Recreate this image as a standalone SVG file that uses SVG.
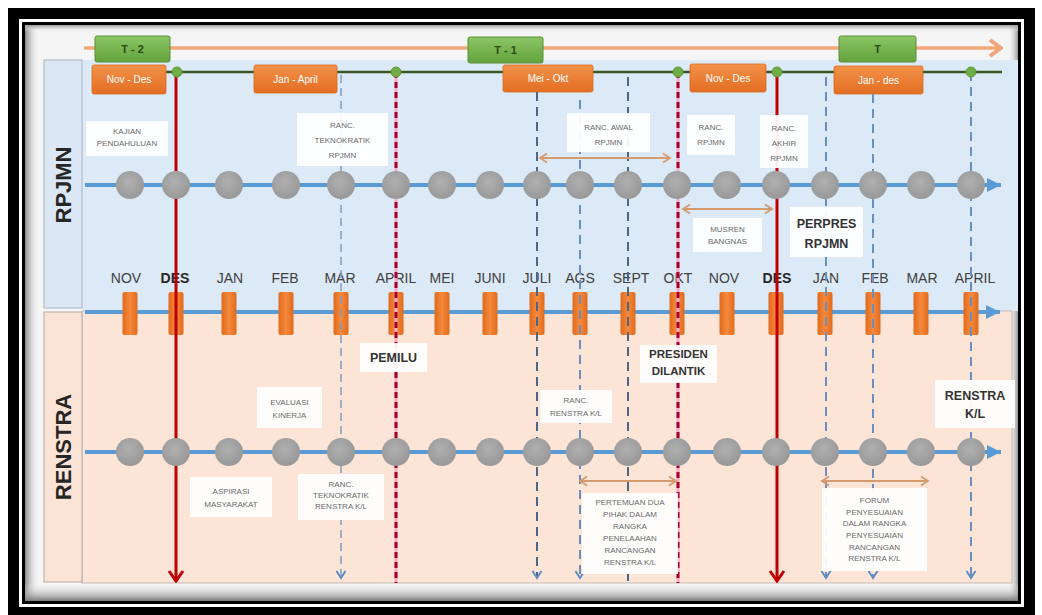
<svg xmlns="http://www.w3.org/2000/svg" width="1042" height="615" viewBox="0 0 1042 615">
<defs>
<style>
.lbl{font-family:"Liberation Sans",Arial,sans-serif;font-size:8px;fill:#6a6a6a;text-anchor:middle}
.lblb{font-family:"Liberation Sans",Arial,sans-serif;font-size:12.5px;font-weight:bold;fill:#333;text-anchor:middle}
.box{fill:#ffffff;fill-opacity:0.93}
.mon{font-family:"Liberation Sans",Arial,sans-serif;font-size:14px;fill:#404040;text-anchor:middle}
.monb{font-weight:bold;fill:#262626}
.side{font-family:"Liberation Sans",Arial,sans-serif;font-size:22px;font-weight:bold;fill:#262626;text-anchor:middle}
.per{font-family:"Liberation Sans",Arial,sans-serif;font-size:10px;fill:#fff;text-anchor:middle}
.yr{font-family:"Liberation Sans",Arial,sans-serif;font-size:11px;font-weight:bold;fill:#2d4a1c;text-anchor:middle}
.gbox{fill:url(#gGreen);stroke:#5a8f38;stroke-width:1}
.obox{fill:url(#gOrange);stroke:#d96a20;stroke-width:0.8}
.tl{stroke:#5b9bd5;stroke-width:4;fill:none}
.dot{fill:url(#gGray)}
.mrk{fill:url(#gMark)}
.gdot{fill:#70ad47;stroke:#5a9a36;stroke-width:1}
.red{stroke:#c00000;stroke-width:3;fill:none}
.pink{stroke:#f7a8c4;stroke-width:3;fill:none}
.reddash{stroke:#a5002a;stroke-width:3;stroke-dasharray:6 4;fill:none}
.bdash{stroke:#6a8fbf;stroke-width:2;stroke-dasharray:9 6;fill:none}
.bdashl{stroke:#7f9cc0;stroke-width:1.5;stroke-dasharray:8 5;fill:none}
.bdashd{stroke:#4e6584;stroke-width:2;stroke-dasharray:9 6;fill:none}
.span{stroke:#d59a6d;stroke-width:2;fill:none}
</style>
<linearGradient id="gGreen" x1="0" y1="0" x2="0" y2="1"><stop offset="0" stop-color="#8cc665"/><stop offset="1" stop-color="#62a23c"/></linearGradient>
<linearGradient id="gOrange" x1="0" y1="0" x2="0" y2="1"><stop offset="0" stop-color="#f3914a"/><stop offset="1" stop-color="#e26e22"/></linearGradient>
<linearGradient id="gMark" x1="0" y1="0" x2="1" y2="0"><stop offset="0" stop-color="#e06a1c"/><stop offset="0.5" stop-color="#f58a3e"/><stop offset="1" stop-color="#e06a1c"/></linearGradient>
<radialGradient id="gGray" cx="0.45" cy="0.4" r="0.6"><stop offset="0" stop-color="#b0b0b0"/><stop offset="1" stop-color="#989898"/></radialGradient>
<linearGradient id="shL" x1="0" y1="0" x2="1" y2="0"><stop offset="0" stop-color="#8a8a8a"/><stop offset="1" stop-color="#f3f3f3" stop-opacity="0"/></linearGradient>
<linearGradient id="shR" x1="1" y1="0" x2="0" y2="0"><stop offset="0" stop-color="#9a9a9a"/><stop offset="1" stop-color="#f3f3f3" stop-opacity="0"/></linearGradient>
<linearGradient id="shB" x1="0" y1="1" x2="0" y2="0"><stop offset="0" stop-color="#7a7a7a"/><stop offset="1" stop-color="#f3f3f3" stop-opacity="0"/></linearGradient>
<linearGradient id="shT" x1="0" y1="0" x2="0" y2="1"><stop offset="0" stop-color="#9a9a9a"/><stop offset="1" stop-color="#f3f3f3" stop-opacity="0"/></linearGradient>
<marker id="arRed" viewBox="-13 -9 15 18" refX="0" refY="0" markerWidth="15" markerHeight="18" markerUnits="userSpaceOnUse" orient="auto"><path d="M-10,-7 L0,0 L-10,7" fill="none" stroke="#c00000" stroke-width="3"/></marker>
<marker id="arBlue" viewBox="-9 -6 11 12" refX="0" refY="0" markerWidth="11" markerHeight="12" markerUnits="userSpaceOnUse" orient="auto"><path d="M-7,-4.5 L0,0 L-7,4.5" fill="none" stroke="#5f8cc4" stroke-width="2"/></marker>
<marker id="arTan" viewBox="-9 -6 11 12" refX="0" refY="0" markerWidth="11" markerHeight="12" markerUnits="userSpaceOnUse" orient="auto-start-reverse"><path d="M-7,-4.5 L0,0 L-7,4.5" fill="none" stroke="#d59a6d" stroke-width="1.8"/></marker>
<marker id="arTl" viewBox="-15 -8 16 16" refX="0" refY="0" markerWidth="16" markerHeight="16" markerUnits="userSpaceOnUse" orient="auto"><path d="M-14,-7 L0,0 L-14,7 Z" fill="#5b9bd5"/></marker>
<marker id="arTop" viewBox="-14 -10 16 20" refX="0" refY="0" markerWidth="16" markerHeight="20" markerUnits="userSpaceOnUse" orient="auto"><path d="M-11,-8 L0,0 L-11,8" fill="none" stroke="#f0a878" stroke-width="4"/></marker>
</defs>

<g id="frame">
<rect width="1042" height="615" fill="#ffffff"/>
<rect x="8" y="8" width="1027" height="607" fill="#000"/>
<rect x="19" y="19" width="1005" height="588" fill="#fff"/>
<rect x="22" y="22" width="999" height="582" fill="#000"/>
<rect x="25" y="25" width="993" height="576" fill="#f5f5f5"/>
<rect x="25" y="25" width="14" height="576" fill="url(#shL)"/>
<rect x="1008" y="25" width="10" height="576" fill="url(#shR)"/>
<rect x="25" y="583" width="993" height="18" fill="url(#shB)"/>
<rect x="25" y="25" width="993" height="7" fill="url(#shT)"/>
</g>

<g id="panels">
<rect x="82" y="60" width="936" height="251" fill="#dce9f6"/>
<rect x="44" y="60" width="38" height="248" fill="#dbe7f4" stroke="#a9b4c2" stroke-width="1"/>
<rect x="82" y="311" width="930" height="272" fill="#fce4d6" stroke="#c9bdb5" stroke-width="1"/>
<rect x="44" y="312" width="38" height="270" fill="#fbe4d5" stroke="#b5aca5" stroke-width="1"/>
<text class="side" transform="translate(71,185) rotate(-90)">RPJMN</text>
<text class="side" transform="translate(71,447) rotate(-90)">RENSTRA</text>
</g>

<g id="year-timeline">
<line x1="84" y1="48" x2="1001" y2="48" stroke="#f0a878" stroke-width="3.5" marker-end="url(#arTop)"/>
<line x1="160" y1="72" x2="1002" y2="72" stroke="#375623" stroke-width="2.5"/>
</g>

<g id="year-T-2"><rect class="gbox" x="95" y="36" width="75" height="26" rx="2"/><text class="yr" x="132.5" y="53">T - 2</text></g>
<g id="year-T-1"><rect class="gbox" x="468" y="37" width="75" height="26" rx="2"/><text class="yr" x="505.5" y="54">T - 1</text></g>
<g id="year-T"><rect class="gbox" x="839" y="36" width="77" height="26" rx="2"/><text class="yr" x="877.5" y="53">T</text></g>

<g id="period-nov-des-1"><rect class="obox" x="92" y="65" width="74" height="29" rx="2"/><text class="per" x="129" y="83">Nov - Des</text></g>
<g id="period-jan-april"><rect class="obox" x="254" y="65" width="83" height="28" rx="2"/><text class="per" x="295.5" y="82.5">Jan - April</text></g>
<g id="period-mei-okt"><rect class="obox" x="503" y="65" width="90" height="27" rx="2"/><text class="per" x="548" y="82">Mei - Okt</text></g>
<g id="period-nov-des-2"><rect class="obox" x="690" y="64" width="76" height="28" rx="2"/><text class="per" x="728" y="81.5">Nov - Des</text></g>
<g id="period-jan-des"><rect class="obox" x="834" y="66" width="89" height="28" rx="2"/><text class="per" x="878.5" y="83.5">Jan - des</text></g>

<g id="month-axis">
<line class="tl" x1="85" y1="312" x2="1000" y2="312" marker-end="url(#arTl)"/>
<rect class="mrk" x="122.5" y="292" width="15" height="43" rx="2"/>
<rect class="mrk" x="168.5" y="292" width="15" height="43" rx="2"/>
<rect class="mrk" x="221.5" y="292" width="15" height="43" rx="2"/>
<rect class="mrk" x="278.5" y="292" width="15" height="43" rx="2"/>
<rect class="mrk" x="333.5" y="292" width="15" height="43" rx="2"/>
<rect class="mrk" x="388.5" y="292" width="15" height="43" rx="2"/>
<rect class="mrk" x="434.5" y="292" width="15" height="43" rx="2"/>
<rect class="mrk" x="482.5" y="292" width="15" height="43" rx="2"/>
<rect class="mrk" x="529.5" y="292" width="15" height="43" rx="2"/>
<rect class="mrk" x="572.5" y="292" width="15" height="43" rx="2"/>
<rect class="mrk" x="620.5" y="292" width="15" height="43" rx="2"/>
<rect class="mrk" x="669.5" y="292" width="15" height="43" rx="2"/>
<rect class="mrk" x="719.5" y="292" width="15" height="43" rx="2"/>
<rect class="mrk" x="768.5" y="292" width="15" height="43" rx="2"/>
<rect class="mrk" x="817.5" y="292" width="15" height="43" rx="2"/>
<rect class="mrk" x="865.5" y="292" width="15" height="43" rx="2"/>
<rect class="mrk" x="913.5" y="292" width="15" height="43" rx="2"/>
<rect class="mrk" x="963.5" y="292" width="15" height="43" rx="2"/>
<text class="mon" x="126" y="283">NOV</text>
<text class="mon monb" x="175" y="283">DES</text>
<text class="mon" x="230" y="283">JAN</text>
<text class="mon" x="285" y="283">FEB</text>
<text class="mon" x="340" y="283">MAR</text>
<text class="mon" x="396" y="283">APRIL</text>
<text class="mon" x="442" y="283">MEI</text>
<text class="mon" x="490" y="283">JUNI</text>
<text class="mon" x="537" y="283">JULI</text>
<text class="mon" x="580" y="283">AGS</text>
<text class="mon" x="631" y="283">SEPT</text>
<text class="mon" x="678" y="283">OKT</text>
<text class="mon" x="724" y="283">NOV</text>
<text class="mon monb" x="777" y="283">DES</text>
<text class="mon" x="826" y="283">JAN</text>
<text class="mon" x="875" y="283">FEB</text>
<text class="mon" x="922" y="283">MAR</text>
<text class="mon" x="975" y="283">APRIL</text>
</g>

<g id="connectors">
<line class="red" x1="176" y1="72" x2="176" y2="581" marker-end="url(#arRed)"/>
<line class="bdashl" x1="341" y1="75" x2="341" y2="578" marker-end="url(#arBlue)"/>
<line class="pink" x1="396" y1="72" x2="396" y2="583"/>
<line class="reddash" x1="396" y1="72" x2="396" y2="583"/>
<line class="bdashd" x1="537" y1="92" x2="537" y2="578" marker-end="url(#arBlue)"/>
<line class="bdash" x1="580" y1="100" x2="580" y2="578" marker-end="url(#arBlue)"/>
<line class="bdashd" x1="628" y1="77" x2="628" y2="583"/>
<line class="pink" x1="678" y1="72" x2="678" y2="583"/>
<line class="reddash" x1="678" y1="72" x2="678" y2="583"/>
<line class="red" x1="777" y1="72" x2="777" y2="581" marker-end="url(#arRed)"/>
<line class="bdash" x1="826" y1="77" x2="826" y2="578" marker-end="url(#arBlue)"/>
<line class="bdash" x1="873" y1="94" x2="873" y2="578" marker-end="url(#arBlue)"/>
<line class="bdash" x1="971" y1="72" x2="971" y2="578" marker-end="url(#arBlue)"/>
<line class="span" x1="540" y1="158" x2="670" y2="158" marker-start="url(#arTan)" marker-end="url(#arTan)"/>
<line class="span" x1="683" y1="209" x2="772" y2="209" marker-start="url(#arTan)" marker-end="url(#arTan)"/>
<line class="span" x1="580" y1="481" x2="676" y2="481" marker-start="url(#arTan)" marker-end="url(#arTan)"/>
<line class="span" x1="822" y1="481" x2="928" y2="481" marker-start="url(#arTan)" marker-end="url(#arTan)"/>
</g>

<g id="milestones">
<circle class="gdot" cx="177" cy="72" r="5"/>
<circle class="gdot" cx="396" cy="72" r="5"/>
<circle class="gdot" cx="678" cy="72" r="5"/>
<circle class="gdot" cx="777" cy="72" r="5"/>
<circle class="gdot" cx="971" cy="72" r="5"/>
</g>

<g id="rpjmn-axis">
<line class="tl" x1="85" y1="185" x2="1001" y2="185" marker-end="url(#arTl)"/>
<circle class="dot" cx="130" cy="185" r="14"/><circle class="dot" cx="176" cy="185" r="14"/><circle class="dot" cx="229" cy="185" r="14"/><circle class="dot" cx="286" cy="185" r="14"/><circle class="dot" cx="341" cy="185" r="14"/><circle class="dot" cx="396" cy="185" r="14"/><circle class="dot" cx="442" cy="185" r="14"/><circle class="dot" cx="490" cy="185" r="14"/><circle class="dot" cx="537" cy="185" r="14"/><circle class="dot" cx="580" cy="185" r="14"/><circle class="dot" cx="628" cy="185" r="14"/><circle class="dot" cx="677" cy="185" r="14"/><circle class="dot" cx="727" cy="185" r="14"/><circle class="dot" cx="776" cy="185" r="14"/><circle class="dot" cx="825" cy="185" r="14"/><circle class="dot" cx="873" cy="185" r="14"/><circle class="dot" cx="921" cy="185" r="14"/><circle class="dot" cx="971" cy="185" r="14"/>
</g>

<g id="renstra-axis">
<line class="tl" x1="85" y1="452" x2="1001" y2="452" marker-end="url(#arTl)"/>
<circle class="dot" cx="130" cy="452" r="14"/><circle class="dot" cx="176" cy="452" r="14"/><circle class="dot" cx="229" cy="452" r="14"/><circle class="dot" cx="286" cy="452" r="14"/><circle class="dot" cx="341" cy="452" r="14"/><circle class="dot" cx="396" cy="452" r="14"/><circle class="dot" cx="442" cy="452" r="14"/><circle class="dot" cx="490" cy="452" r="14"/><circle class="dot" cx="537" cy="452" r="14"/><circle class="dot" cx="580" cy="452" r="14"/><circle class="dot" cx="628" cy="452" r="14"/><circle class="dot" cx="677" cy="452" r="14"/><circle class="dot" cx="727" cy="452" r="14"/><circle class="dot" cx="776" cy="452" r="14"/><circle class="dot" cx="825" cy="452" r="14"/><circle class="dot" cx="873" cy="452" r="14"/><circle class="dot" cx="921" cy="452" r="14"/><circle class="dot" cx="971" cy="452" r="14"/>
</g>

<g id="kajian-pendahuluan"><rect class="box" x="86" y="121" width="82" height="35"/><text class="lbl" x="127" y="134">KAJIAN</text><text class="lbl" x="127" y="146">PENDAHULUAN</text></g>
<g id="ranc-teknokratik-rpjmn"><rect class="box" x="297" y="113" width="91" height="53"/><text class="lbl" x="342.5" y="128">RANC.</text><text class="lbl" x="342.5" y="143">TEKNOKRATIK</text><text class="lbl" x="342.5" y="158">RPJMN</text></g>
<g id="ranc-awal-rpjmn"><rect class="box" x="567" y="113" width="83" height="39"/><text class="lbl" x="608.5" y="130">RANC. AWAL</text><text class="lbl" x="608.5" y="145">RPJMN</text></g>
<g id="ranc-rpjmn"><rect class="box" x="687" y="115" width="48" height="40"/><text class="lbl" x="711" y="130">RANC.</text><text class="lbl" x="711" y="145">RPJMN</text></g>
<g id="ranc-akhir-rpjmn"><rect class="box" x="760" y="115" width="48" height="53"/><text class="lbl" x="784" y="131">RANC.</text><text class="lbl" x="784" y="146">AKHIR</text><text class="lbl" x="784" y="161">RPJMN</text></g>
<g id="musren-bangnas"><rect class="box" x="693" y="218" width="69" height="34"/><text class="lbl" x="727.5" y="232">MUSREN</text><text class="lbl" x="727.5" y="244">BANGNAS</text></g>
<g id="perpres-rpjmn"><rect class="box" x="790" y="207" width="73" height="50"/><text class="lblb" x="826.5" y="228">PERPRES</text><text class="lblb" x="826.5" y="248">RPJMN</text></g>
<g id="pemilu"><rect class="box" x="360" y="343" width="67" height="29"/><text class="lblb" x="393.5" y="362">PEMILU</text></g>
<g id="presiden-dilantik"><rect class="box" x="640" y="345" width="77" height="38"/><text class="lblb" x="678.5" y="358" style="font-size:11.5px">PRESIDEN</text><text class="lblb" x="678.5" y="375" style="font-size:11.5px">DILANTIK</text></g>
<g id="evaluasi-kinerja"><rect class="box" x="257" y="387" width="65" height="41"/><text class="lbl" x="289.5" y="405">EVALUASI</text><text class="lbl" x="289.5" y="418">KINERJA</text></g>
<g id="aspirasi-masyarakat"><rect class="box" x="190" y="477" width="82" height="40"/><text class="lbl" x="231" y="494">ASPIRASI</text><text class="lbl" x="231" y="507">MASYARAKAT</text></g>
<g id="ranc-teknokratik-renstra"><rect class="box" x="298" y="474" width="86" height="46"/><text class="lbl" x="341" y="487">RANC.</text><text class="lbl" x="341" y="498">TEKNOKRATIK</text><text class="lbl" x="341" y="509">RENSTRA K/L</text></g>
<g id="ranc-renstra"><rect class="box" x="540" y="390" width="72" height="33"/><text class="lbl" x="576" y="403">RANC.</text><text class="lbl" x="576" y="416">RENSTRA K/L</text></g>
<g id="pertemuan-dua-pihak"><rect class="box" x="582" y="493" width="96" height="81"/><text class="lbl" x="630" y="505">PERTEMUAN DUA</text><text class="lbl" x="630" y="517">PIHAK DALAM</text><text class="lbl" x="630" y="529">RANGKA</text><text class="lbl" x="630" y="541">PENELAAHAN</text><text class="lbl" x="630" y="553">RANCANGAN</text><text class="lbl" x="630" y="565">RENSTRA K/L</text></g>
<g id="renstra-kl"><rect class="box" x="935" y="380" width="80" height="48"/><text class="lblb" x="975" y="400">RENSTRA</text><text class="lblb" x="975" y="418">K/L</text></g>
<g id="forum-penyesuaian"><rect class="box" x="822" y="488" width="105" height="83"/><text class="lbl" x="874.5" y="503">FORUM</text><text class="lbl" x="874.5" y="515">PENYESUAIAN</text><text class="lbl" x="874.5" y="526">DALAM RANGKA</text><text class="lbl" x="874.5" y="538">PENYESUAIAN</text><text class="lbl" x="874.5" y="550">RANCANGAN</text><text class="lbl" x="874.5" y="561">RENSTRA K/L</text></g>
</svg>
